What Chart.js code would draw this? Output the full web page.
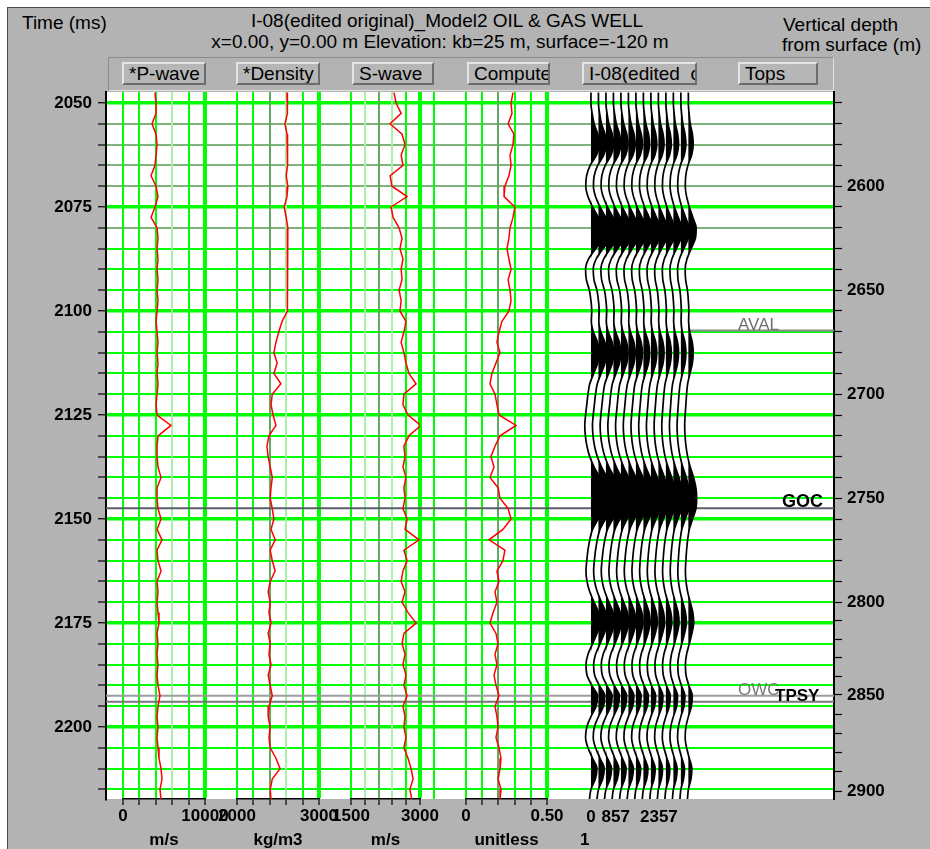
<!DOCTYPE html>
<html>
<head>
<meta charset="utf-8">
<title>I-08 well log display</title>
<script src="https://cdn.jsdelivr.net/npm/chart.js@4.4.0/dist/chart.umd.min.js"></script>
<style>
  body { margin: 0; width: 930px; height: 849px; background: #fff; position: relative; overflow: hidden; }
  #panel { position: absolute; left: 7px; top: 7px; width: 923px; height: 842px; background: #b3b3b3;
           border-left: 1px solid #4a4a4a; border-top: 1px solid #4a4a4a; box-sizing: border-box; }
  .hd { position: absolute; font: 19px "Liberation Sans", Arial, sans-serif; color: #000; white-space: nowrap; line-height: 22px; }
  .ctr { transform: translateX(-50%); }
  #bar { position: absolute; left: 108px; top: 57px; width: 726px; height: 34px; box-sizing: border-box;
         border: 1px solid; border-color: #8a8a8a #e2e2e2 #e2e2e2 #8a8a8a; }
  .btn { position: absolute; top: 62px; height: 23px; box-sizing: border-box; overflow: hidden; white-space: nowrap;
         background: #b6b6b6; border: 2px solid; border-color: #e4e4e4 #6c6c6c #6c6c6c #e4e4e4;
         font: 19px "Liberation Sans", Arial, sans-serif; line-height: 19px; padding-left: 5px; color: #000; }
  canvas { position: absolute; left: 0; top: 0; }
</style>
</head>
<body>
<div id="panel"></div>
<div class="hd" style="left:22px; top:12px;">Time (ms)</div>
<div class="hd ctr" style="left:447px; top:10px;">I-08(edited original)_Model2 OIL &amp; GAS WELL</div>
<div class="hd ctr" style="left:440px; top:31px;">x=0.00, y=0.00 m Elevation: kb=25 m, surface=-120 m</div>
<div class="hd" style="left:783px; top:14px;">Vertical depth</div>
<div class="hd" style="left:782px; top:34px;">from surface (m)</div>
<div id="bar"></div>
<div class="btn" style="left:122px; width:84px;">*P-wave</div>
<div class="btn" style="left:236px; width:84px;">*Density</div>
<div class="btn" style="left:352px; width:82px;">S-wave</div>
<div class="btn" style="left:467px; width:83px;">Compute</div>
<div class="btn" style="left:582px; width:115px;">I-08(edited_original)</div>
<div class="btn" style="left:738px; width:80px;">Tops</div>
<canvas id="logChart" width="930" height="849"></canvas>

<script>
// sample times of the logs and of the synthetic trace (ms)
const times = [2047.5, 2050, 2052.5, 2055, 2057.5, 2060, 2062.5, 2065, 2067.5, 2070,
  2072.5, 2075, 2077.5, 2080, 2082.5, 2085, 2087.5, 2090, 2092.5, 2095,
  2097.5, 2100, 2102.5, 2105, 2107.5, 2110, 2112.5, 2115, 2117.5, 2120,
  2122.5, 2125, 2127.5, 2130, 2132.5, 2135, 2137.5, 2140, 2142.5, 2145,
  2147.5, 2150, 2152.5, 2155, 2157.5, 2160, 2162.5, 2165, 2167.5, 2170,
  2172.5, 2175, 2177.5, 2180, 2182.5, 2185, 2187.5, 2190, 2192.5, 2195,
  2197.5, 2200, 2202.5, 2205, 2207.5, 2210, 2212.5, 2215, 2217.5];

// P-wave velocity (m/s)
const pWave = [3900, 4030, 4030, 3540, 4030, 4150, 4030, 3900, 3420, 4030,
  4270, 3900, 3420, 4150, 4270, 4150, 4270, 4150, 4270, 4150,
  4270, 4150, 4030, 4150, 4270, 4150, 4270, 4150, 4270, 4150,
  4030, 4150, 5850, 4270, 4150, 4150, 4270, 4640, 4150, 4150,
  4270, 4640, 4150, 4760, 4150, 4270, 4640, 4150, 4270, 4150,
  4270, 4390, 4150, 4270, 4150, 4270, 4150, 4270, 4510, 4270,
  4150, 4270, 4150, 4270, 4390, 4640, 4760, 4510, 4640];

// bulk density (kg/m3)
const density = [2610, 2610, 2620, 2585, 2610, 2620, 2610, 2620, 2600, 2620,
  2610, 2575, 2600, 2620, 2610, 2620, 2610, 2620, 2620, 2610,
  2620, 2610, 2550, 2510, 2475, 2450, 2490, 2450, 2535, 2430,
  2415, 2440, 2475, 2390, 2365, 2380, 2405, 2430, 2415, 2405,
  2430, 2450, 2415, 2465, 2405, 2430, 2465, 2405, 2380, 2405,
  2390, 2415, 2380, 2405, 2390, 2415, 2380, 2405, 2430, 2390,
  2380, 2405, 2390, 2405, 2475, 2525, 2430, 2405, 2415];

// S-wave velocity (m/s)
const sWave = [2435, 2480, 2590, 2350, 2610, 2675, 2590, 2630, 2350, 2390,
  2720, 2370, 2415, 2545, 2610, 2565, 2630, 2590, 2610, 2545,
  2590, 2565, 2695, 2650, 2590, 2650, 2695, 2760, 2915, 2650,
  2630, 2740, 3020, 2760, 2650, 2675, 2630, 2695, 2650, 2675,
  2630, 2720, 2675, 2980, 2650, 2720, 2630, 2590, 2675, 2610,
  2740, 2915, 2650, 2610, 2675, 2630, 2695, 2650, 2720, 2630,
  2675, 2650, 2695, 2650, 2740, 2805, 2850, 2780, 2825];

// computed curve (unitless)
const computed = [0.290, 0.278, 0.284, 0.260, 0.296, 0.290, 0.272, 0.278, 0.265, 0.240,
  0.235, 0.302, 0.290, 0.272, 0.265, 0.253, 0.265, 0.278, 0.260, 0.272,
  0.278, 0.265, 0.222, 0.204, 0.191, 0.210, 0.185, 0.160, 0.148, 0.179,
  0.191, 0.204, 0.309, 0.210, 0.179, 0.154, 0.173, 0.148, 0.198, 0.210,
  0.260, 0.278, 0.228, 0.142, 0.240, 0.228, 0.191, 0.204, 0.179, 0.191,
  0.167, 0.148, 0.185, 0.198, 0.179, 0.191, 0.173, 0.185, 0.204, 0.179,
  0.191, 0.198, 0.185, 0.204, 0.216, 0.210, 0.198, 0.216, 0.210];

// synthetic trace amplitude, same samples as the logs
const wavelet = [0, 0, 30, 80, 170, 205, 140, -20, -110, -130,
  -75, 40, 190, 330, 300, 120, -60, -135, -115, -40,
  0, 20, 10, 60, 165, 205, 170, 70, -30, -75,
  -105, -135, -155, -140, -100, -30, 80, 220, 320, 350,
  320, 180, 40, -30, -75, -105, -125, -100, -30, 80,
  190, 225, 150, 40, -75, -125, -100, 20, 165, 130,
  0, -105, -135, -75, 40, 150, 110, 0, -40];

const traceOffsets = [0, 260, 520, 780, 1040, 1300, 1560, 1820, 2080, 2340, 2600, 2860, 3120, 3380];
const traceGain = [1.38, 1.34, 1.3, 1.25, 1.2, 1.15, 1.1, 1.05, 1.0, 0.96, 0.92, 0.88, 0.85, 0.82];
const traceTicks = [0, 857, 2357];

// axis ticks
const timeTicks = [2050, 2055, 2060, 2065, 2070, 2075, 2080, 2085, 2090, 2095, 2100, 2105,
  2110, 2115, 2120, 2125, 2130, 2135, 2140, 2145, 2150, 2155, 2160, 2165,
  2170, 2175, 2180, 2185, 2190, 2195, 2200, 2205, 2210, 2215];
const depthTicks = [2560, 2570, 2580, 2590, 2600, 2610, 2620, 2630, 2640, 2650, 2660, 2670,
  2680, 2690, 2700, 2710, 2720, 2730, 2740, 2750, 2760, 2770, 2780, 2790,
  2800, 2810, 2820, 2830, 2840, 2850, 2860, 2870, 2880, 2890, 2900];
const depthTimes = [2050, 2055, 2060, 2065, 2070, 2075, 2080, 2085, 2090, 2095, 2100, 2105,
  2110, 2115, 2120, 2125, 2130, 2135, 2140, 2145, 2150, 2155, 2160, 2165,
  2170, 2174.5, 2179, 2183.4, 2187.9, 2192.3, 2196.9, 2201.5, 2206.2, 2210.8, 2215.4];
const pTicks = [0, 2000, 4000, 6000, 8000, 10000];
const rhoTicks = [2000, 2200, 2400, 2600, 2800, 3000];
const sTicks = [1500, 1800, 2100, 2400, 2700, 3000];
const cTicks = [0, 0.1, 0.2, 0.3, 0.4, 0.5];

// formation tops
const topNames = ['AVAL', 'GOC', 'OWC', 'TPSY'];
const topTimes = [2104.7, 2147.4, 2192.5, 2193.9];

const G = '#00ff00', LG = '#a8f2a8', DG = '#62a862';
const tickFont = { family: "'Liberation Sans', Arial, sans-serif", size: 17, weight: 'bold' };

function trackAxis(ticks, weight, colors, unit, labels) {
  const last = ticks.length - 1;
  return {
    type: 'linear', position: 'bottom', stack: 'tracks', stackWeight: weight,
    min: ticks[0], max: ticks[last],
    afterBuildTicks: s => { s.ticks = ticks.map(v => ({ value: v })); },
    afterFit: s => { s.height = 50; },
    grid: {
      color: c => colors[c.index] || G,
      lineWidth: c => c.index === last ? 4 : 2,
      drawTicks: true, tickLength: 6, tickColor: '#000', tickWidth: 1.2
    },
    border: { display: true, color: '#000', width: 1.5 },
    ticks: {
      autoSkip: false, maxRotation: 0, padding: 1, color: '#000', font: tickFont,
      callback: (v, i) => i === 0 ? labels[0] : (i === last ? labels[1] : '')
    },
    title: { display: true, text: unit, color: '#000', font: { ...tickFont, lineHeight: 1 }, padding: 0 }
  };
}

function gapAxis(weight, min, max, lines) {
  return {
    type: 'linear', position: 'bottom', stack: 'tracks', stackWeight: weight, min: min, max: max,
    afterBuildTicks: s => { if (lines.length) s.ticks = lines.map(v => ({ value: v })); },
    afterFit: s => { s.height = 50; },
    grid: { display: lines.length > 0, color: G, lineWidth: 2, drawTicks: false },
    border: { display: false },
    ticks: { display: false }
  };
}

function hColor(v) {
  if ([2055, 2060, 2065, 2070, 2080].includes(v)) return '#7cb47c';
  return G;
}

const datasets = [];

// red log curves
[[pWave, 't1'], [density, 't2'], [sWave, 't3'], [computed, 't4']].forEach(([vals, axis]) => {
  datasets.push({
    data: times.map((t, i) => ({ x: vals[i], y: t })),
    xAxisID: axis, yAxisID: 'y',
    borderColor: '#ff0000', borderWidth: 1.5, pointRadius: 0, fill: false, tension: 0
  });
});

// wiggle traces with black positive lobes
traceOffsets.forEach((off, k) => {
  const g = traceGain[k];
  datasets.push({
    data: times.map((t, i) => ({ x: off + g * wavelet[i], y: t })),
    xAxisID: 't5', yAxisID: 'y',
    borderColor: '#000', borderWidth: 1.7, pointRadius: 0, fill: false,
    cubicInterpolationMode: 'monotone'
  });
  datasets.push({
    data: times.map((t, i) => ({ x: off + Math.max(0, g * wavelet[i]), y: t })),
    xAxisID: 't5', yAxisID: 'y',
    borderColor: 'rgba(0,0,0,0)', borderWidth: 0, backgroundColor: '#000', pointRadius: 0,
    fill: { target: { value: off }, above: '#000', below: '#000' },
    cubicInterpolationMode: 'monotone'
  });
});

// tops lines across the panel
const topStart = [0.8, 0, 0, 0];
const topColors = ['#8a8a8a', '#5c5c6c', '#9c9c9c', '#777777'];
topNames.forEach((n, k) => {
  datasets.push({
    data: [{ x: topStart[k], y: topTimes[k] }, { x: 1, y: topTimes[k] }],
    xAxisID: 'xf', yAxisID: 'y',
    borderColor: topColors[k], borderWidth: 2, pointRadius: 0, fill: false, tension: 0
  });
});

const whiteArea = {
  id: 'whiteArea',
  beforeDraw(chart) {
    const { ctx, chartArea: a } = chart;
    ctx.save();
    ctx.fillStyle = '#fff';
    ctx.fillRect(a.left, a.top, a.right - a.left, a.bottom - a.top);
    ctx.restore();
  }
};

const topInset = [96, 52, 96, 59];
const topFont = ['17px "Liberation Sans", Arial', 'bold 18px "Liberation Sans", Arial',
                 '17px "Liberation Sans", Arial', 'bold 17px "Liberation Sans", Arial'];
const topText = ['#6e6e6e', '#000', '#7a7a7a', '#000'];
const topLabels = {
  id: 'topLabels',
  afterDatasetsDraw(chart) {
    const { ctx, chartArea, scales } = chart;
    topNames.forEach((n, k) => {
      const y = scales.y.getPixelForValue(topTimes[k]);
      ctx.save();
      ctx.font = topFont[k];
      ctx.fillStyle = topText[k];
      ctx.textBaseline = 'alphabetic';
      ctx.fillText(n, chartArea.right - topInset[k], y - 1);
      ctx.restore();
    });
  }
};

new Chart(document.getElementById('logChart'), {
  type: 'line',
  data: { datasets: datasets },
  plugins: [whiteArea, topLabels],
  options: {
    responsive: false,
    animation: false,
    indexAxis: 'y',
    layout: { padding: { top: 92, left: 0, right: 0, bottom: 0 } },
    plugins: { legend: { display: false }, tooltip: { enabled: false } },
    elements: { point: { radius: 0 } },
    scales: {
      y: {
        type: 'linear', position: 'left', reverse: true, min: 2047.36, max: 2217.3,
        afterBuildTicks: s => { s.ticks = timeTicks.map(v => ({ value: v })); },
        afterFit: s => { s.width = 106; },
        grid: {
          color: c => c.tick ? hColor(c.tick.value) : G,
          lineWidth: c => c.tick && c.tick.value % 25 === 0 ? 3.5 : 2,
          tickLength: 8, tickColor: '#000', tickWidth: 1.2
        },
        border: { color: '#000', width: 2 },
        ticks: { autoSkip: false, padding: 6, color: '#000', font: tickFont,
                 callback: v => v % 25 === 0 ? String(v) : '' }
      },
      y2: {
        type: 'linear', position: 'right', reverse: true, min: 2047.36, max: 2217.3,
        afterBuildTicks: s => { s.ticks = depthTimes.map(v => ({ value: v })); },
        afterFit: s => { s.width = 96; },
        grid: { drawOnChartArea: false, tickLength: 8, tickColor: '#000', tickWidth: 1.2 },
        border: { color: '#000', width: 2 },
        ticks: { autoSkip: false, padding: 5, color: '#000', font: tickFont,
                 callback: (v, i) => depthTicks[i] % 50 === 0 ? String(depthTicks[i]) : '' }
      },
      xf: { type: 'linear', position: 'top', display: false, min: 0, max: 1 },
      g0: gapAxis(17, 0, 1, []),
      t1: trackAxis(pTicks, 82, [G, G, G, LG, G, G], 'm/s', ['0', '10000']),
      g1: gapAxis(32, 0, 1, []),
      t2: trackAxis(rhoTicks, 82, [G, G, DG, LG, G, G], 'kg/m3', ['2000', '3000']),
      g2: gapAxis(32, 0, 1, []),
      t3: trackAxis(sTicks, 69, [G, LG, DG, LG, G, G], 'm/s', ['1500', '3000']),
      g3: gapAxis(46, 3000, 4000, [3300]),
      t4: trackAxis(cTicks, 81, [G, G, DG, G, G, G], 'unitless', ['0', '0.50']),
      g4: gapAxis(33, 0, 1, []),
      t5: {
        type: 'linear', position: 'bottom', stack: 'tracks', stackWeight: 120, min: -380, max: 3784,
        afterBuildTicks: s => { s.ticks = traceTicks.map(v => ({ value: v })); },
        afterFit: s => { s.height = 50; },
        grid: { display: false, drawTicks: false },
        border: { display: false },
        ticks: { autoSkip: false, maxRotation: 0, padding: 8, color: '#000', font: tickFont,
                 callback: v => String(v) },
        title: { display: true, text: '1', align: 'start', color: '#000',
                 font: { ...tickFont, lineHeight: 1 }, padding: { left: 7, bottom: 0, top: 0 } }
      },
      g5: gapAxis(134, 0, 1, [])
    }
  }
});
</script>
</body>
</html>
